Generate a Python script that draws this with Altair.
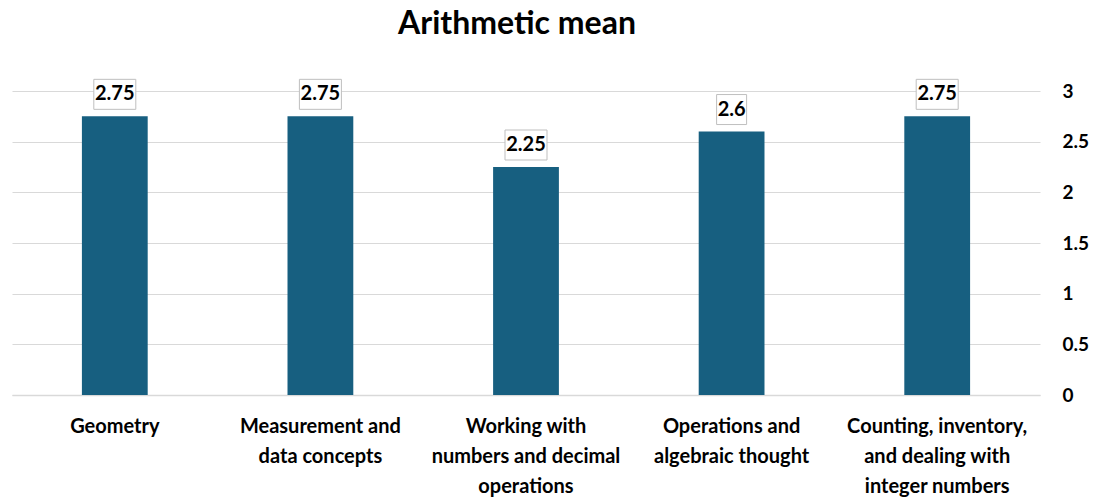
import altair as alt
import pandas as pd

categories = [
    "Geometry",
    "Measurement and data concepts",
    "Working with numbers and decimal operations",
    "Operations and algebraic thought",
    "Counting, inventory, and dealing with integer numbers",
]
label_lines = [
    ["Geometry"],
    ["Measurement and", "data concepts"],
    ["Working with", "numbers and decimal", "operations"],
    ["Operations and", "algebraic thought"],
    ["Counting, inventory,", "and dealing with", "integer numbers"],
]
values = [2.75, 2.75, 2.25, 2.6, 2.75]
value_labels = ["2.75", "2.75", "2.25", "2.6", "2.75"]

df = pd.DataFrame({"category": categories, "value": values, "label": value_labels})


def box_path(txt):
    # box height 30 px, width depends on text length; scaled by sqrt(size)/2 = 21
    h = 15 / 21
    w = 1.0 if len(txt) >= 4 else 15 / 21
    return f"M{-w},{-h}H{w}V{h}H{-w}Z"


df["shape"] = [box_path(t) for t in value_labels]

label_map = "{" + ", ".join(
    f"'{c}': [" + ", ".join(f"'{l}'" for l in ls) + "]" for c, ls in zip(categories, label_lines)
) + "}"

FONT = "Lato"

x = alt.X(
    "category:N",
    sort=categories,
    scale=alt.Scale(paddingInner=0.68, paddingOuter=0.34),
    axis=alt.Axis(
        title=None,
        labelAngle=0,
        labelFont=FONT,
        labelFontSize=20,
        labelFontWeight="bold",
        labelColor="#000000",
        labelPadding=31,
        labelLineHeight=30,
        labelBaseline="middle",
        labelLimit=400,
        labelExpr=f"{label_map}[datum.value]",
        ticks=False,
        domainColor="#D9D9D9",
        domainWidth=1.5,
        grid=False,
    ),
)

y = alt.Y(
    "value:Q",
    scale=alt.Scale(domain=[0, 3]),
    axis=alt.Axis(
        title=None,
        orient="right",
        values=[0, 0.5, 1, 1.5, 2, 2.5, 3],
        labelFont=FONT,
        labelFontSize=19,
        labelFontWeight="bold",
        labelColor="#000000",
        labelPadding=22,
        ticks=False,
        domain=False,
        gridColor="#D9D9D9",
        gridWidth=1.2,
        labelExpr="datum.value",
    ),
)

bars = alt.Chart(df).mark_bar(color="#175F80").encode(x=x, y=y)

boxes = alt.Chart(df).mark_point(
    filled=True, fill="#FFFFFF", stroke="#BFBFBF", strokeWidth=1, opacity=1, size=1764, yOffset=-22
).encode(
    x=alt.X("category:N", sort=categories),
    y="value:Q",
    shape=alt.Shape("shape:N", scale=None, legend=None),
)

texts = alt.Chart(df).mark_text(
    font=FONT, fontSize=20, fontWeight="bold", color="#000000", baseline="middle", dy=-22
).encode(
    x=alt.X("category:N", sort=categories),
    y="value:Q",
    text="label:N",
)

chart = (
    alt.layer(bars, boxes, texts)
    .properties(
        width=1028,
        height=304,
        autosize=alt.AutoSizeParams(type="none"),
        padding={"left": 12, "top": 91, "right": 59, "bottom": 102},
        title=alt.TitleParams(
            "Arithmetic mean",
            font=FONT,
            fontSize=32,
            fontWeight="bold",
            color="#000000",
            anchor="middle",
            offset=36,
            dx=-9,
        ),
    )
    .configure_view(stroke=None)
)

chart.save("out.html", embed_options={"renderer": "svg", "actions": False})
